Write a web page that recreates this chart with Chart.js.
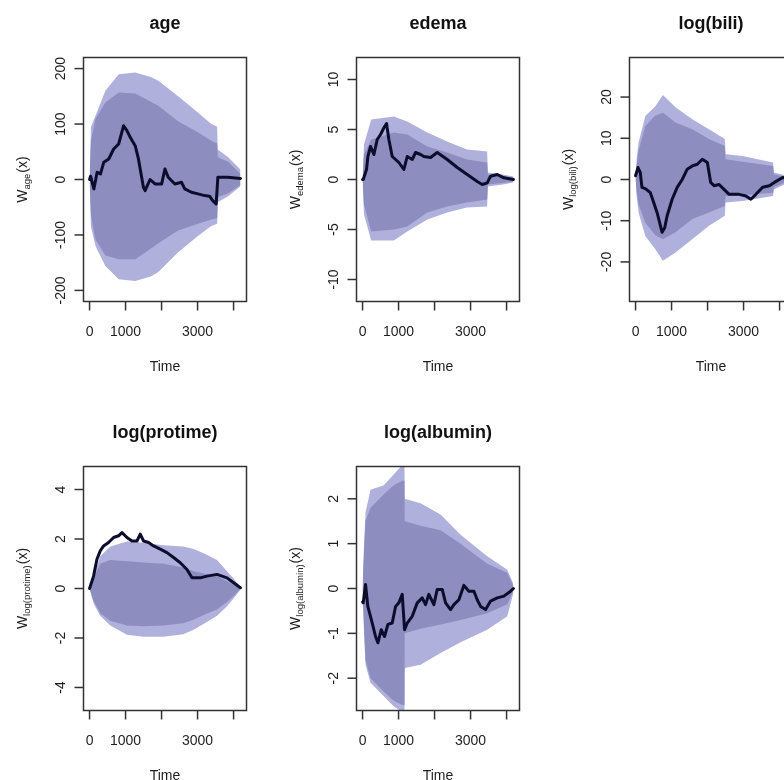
<!DOCTYPE html>
<html><head><meta charset="utf-8">
<script src="https://cdn.jsdelivr.net/npm/chart.js@4.4.1/dist/chart.umd.min.js"></script>
<style>
html,body{margin:0;padding:0;width:784px;height:780px;overflow:hidden;background:#fff}
canvas{position:absolute}
</style></head><body>
<canvas id="c0" width="273" height="409" style="left:0px;top:0px"></canvas>
<canvas id="c1" width="273" height="409" style="left:273px;top:0px"></canvas>
<canvas id="c2" width="273" height="409" style="left:546px;top:0px"></canvas>
<canvas id="c3" width="273" height="409" style="left:0px;top:409px"></canvas>
<canvas id="c4" width="273" height="409" style="left:273px;top:409px"></canvas>
<script>
// ---------- tick labels ----------
const xTickValues = [0, 1000, 2000, 3000, 4000];
const xTickLabels = ["0", "1000", "", "3000", ""];
const ageYTicks = [-200, -100, 0, 100, 200];
const edYTicks = [-10, -5, 0, 5, 10];
const biYTicks = [-20, -10, 0, 10, 20];
const prYTicks = [-4, -2, 0, 2, 4];
const alYTicks = [-2, -1, 0, 1, 2];

// ---------- age ----------
const ageT    = [0, 40, 165, 440, 810, 1270, 1700, 1910, 2460, 3010, 3380, 3545, 3560, 3850, 4191];
const ageHi   = [0, 95, 115, 160, 190, 193, 185, 178, 150, 121, 100, 95, 54, 40, 18];
const ageLo   = [0, -85, -120, -156, -180, -183, -175, -167, -131, -102, -84, -80, -41, -30, -12];
const ageInHi = [0, 70, 109, 139, 157, 155, 140, 133, 105, 85, 70, 65, 40, 32, 10];
const ageInLo = [0, -65, -108, -137, -144, -144, -125, -115, -92, -80, -72, -70, -32, -25, -10];
const ageObsT = [0, 28, 120, 211, 303, 395, 533, 670, 808, 946, 1038, 1130, 1267, 1358, 1496, 1543, 1680, 1818, 2002, 2094, 2185, 2369, 2553, 2645, 2829, 3012, 3196, 3333, 3420, 3517, 3563, 3838, 4191];
const ageObs  = [0, 6, -17, 13, 10, 31, 37, 55, 64, 97, 88, 76, 61, 37, -14, -20, 0, -8, -8, 19, 4, -8, -5, -17, -23, -26, -29, -30, -38, -44, 4, 4, 2];

// ---------- edema ----------
const edT    = [0, 40, 240, 870, 1240, 1800, 2350, 2900, 3460, 3480, 3900, 4191];
const edHi   = [0, 3.5, 6.0, 6.3, 5.8, 4.7, 3.8, 3.0, 2.8, 0.7, 0.5, 0.3];
const edLo   = [0, -3.5, -6.1, -6.1, -5.2, -4.0, -3.3, -2.8, -2.7, -0.7, -0.5, -0.3];
const edInHi = [0, 2.5, 4.0, 4.7, 4.5, 3.3, 2.7, 2.0, 1.7, 0.5, 0.35, 0.2];
const edInLo = [0, -2.5, -5.2, -5.0, -4.7, -3.3, -2.7, -2.3, -2.0, -0.5, -0.35, -0.2];
const edObsT = [0, 19, 110, 148, 222, 315, 407, 500, 611, 667, 731, 824, 917, 1009, 1148, 1241, 1380, 1472, 1611, 1704, 1889, 2074, 2352, 2630, 2907, 3185, 3324, 3463, 3555, 3740, 3925, 4191];
const edObs  = [0, 0, 1.0, 2.3, 3.3, 2.5, 4.0, 4.5, 5.3, 5.6, 4.0, 2.3, 2.0, 1.7, 1.0, 2.3, 2.0, 2.7, 2.5, 2.3, 2.2, 2.7, 2.0, 1.2, 0.5, -0.2, -0.5, -0.33, 0.33, 0.5, 0.17, 0];

// ---------- log(bili) ----------
const biT    = [0, 30, 84, 271, 550, 760, 1109, 1575, 2040, 2480, 2500, 2972, 3820, 3840, 4191];
const biHi   = [0, 5, 9, 15.4, 17.8, 20.5, 17.5, 14.6, 12.2, 9.8, 6.1, 5.7, 4.1, 1.7, 1.0];
const biLo   = [0, -4, -8, -13.7, -16.9, -19.7, -17.7, -14.5, -11.2, -8.8, -5.6, -5.2, -4.0, -2.4, -1.0];
const biInHi = [0, 3.5, 7, 13, 15.5, 16.2, 13.8, 12.2, 9.8, 8.1, 4.9, 4.3, 3.3, 1.2, 0.6];
const biInLo = [0, -3, -6, -10.5, -13.5, -14.5, -12.8, -9.6, -8.0, -6.4, -4.0, -3.8, -3.2, -1.8, -0.6];
const biObsT = [0, 67, 131, 178, 271, 411, 504, 597, 690, 737, 810, 877, 1017, 1156, 1296, 1436, 1575, 1715, 1855, 1994, 2087, 2179, 2319, 2458, 2598, 2877, 3064, 3204, 3343, 3529, 3715, 3855, 4088, 4191];
const biObs  = [0.9, 2.9, 1.7, -1.9, -2.2, -3.2, -5.6, -8.0, -11.2, -12.8, -11.7, -8.8, -4.8, -1.9, 0, 2.5, 3.3, 3.7, 4.9, 4.1, -0.7, -1.5, -1.2, -2.4, -3.6, -3.6, -4.0, -4.8, -3.6, -1.9, -1.5, -0.7, 0.5, 0.3];

// ---------- log(protime) ----------
const prT    = [0, 111, 297, 575, 1039, 1500, 2056, 2600, 2890, 3200, 3540, 3817, 4000, 4191];
const prHi   = [0, 0.5, 1.3, 1.7, 1.9, 1.85, 1.75, 1.7, 1.6, 1.4, 1.15, 0.7, 0.4, 0.05];
const prLo   = [0, -0.6, -1.1, -1.5, -1.87, -1.95, -1.95, -1.85, -1.67, -1.4, -1.1, -0.72, -0.4, -0.05];
const prInHi = [0, 0.4, 1.0, 1.15, 1.1, 1.05, 1.0, 0.85, 0.7, 0.6, 0.5, 0.3, 0.15, 0];
const prInLo = [0, -0.5, -1.0, -1.3, -1.5, -1.53, -1.5, -1.4, -1.26, -1.05, -0.85, -0.55, -0.3, 0];
const prObsT = [0, 111, 205, 297, 389, 528, 667, 806, 900, 1039, 1178, 1317, 1408, 1500, 1639, 1778, 1964, 2150, 2333, 2519, 2706, 2844, 3075, 3261, 3539, 3817, 4000, 4191];
const prObs  = [0, 0.5, 1.18, 1.52, 1.72, 1.86, 2.06, 2.13, 2.26, 2.06, 1.92, 1.92, 2.2, 1.92, 1.86, 1.72, 1.59, 1.45, 1.25, 1.04, 0.77, 0.43, 0.43, 0.5, 0.57, 0.43, 0.23, 0.03];

// ---------- log(albumin) ----------
const alT    = [0, 40, 83, 222, 592, 870, 1100, 1165, 1170, 1611, 2167, 2722, 3463, 4019, 4191];
const alHi   = [0, 1.0, 1.7, 2.2, 2.3, 2.55, 2.75, 2.75, 2.0, 1.9, 1.65, 1.2, 0.72, 0.42, 0.1];
const alLo   = [0, -1.0, -1.7, -2.1, -2.4, -2.63, -2.75, -2.75, -1.77, -1.7, -1.44, -1.2, -0.92, -0.62, -0.1];
const alInHi = [0, 0.8, 1.5, 1.8, 2.1, 2.3, 2.4, 2.4, 1.5, 1.4, 1.3, 1.0, 0.55, 0.35, 0.05];
const alInLo = [0, -0.8, -1.6, -2.0, -2.3, -2.5, -2.6, -2.6, -1.0, -0.9, -0.8, -0.7, -0.55, -0.35, -0.05];
const alObsT = [0, 19, 83, 147, 269, 361, 426, 518, 611, 704, 824, 917, 1009, 1102, 1167, 1241, 1380, 1519, 1658, 1750, 1842, 1981, 2074, 2213, 2306, 2444, 2537, 2676, 2815, 2954, 3093, 3185, 3278, 3417, 3556, 3741, 3925, 4111, 4191];
const alObs  = [-0.3, -0.32, 0.09, -0.4, -0.77, -1.07, -1.21, -0.92, -1.07, -0.8, -0.77, -0.4, -0.32, -0.13, -0.92, -0.77, -0.62, -0.32, -0.21, -0.36, -0.13, -0.36, -0.02, -0.02, -0.32, -0.47, -0.36, -0.25, 0.07, -0.06, -0.06, -0.25, -0.4, -0.47, -0.28, -0.21, -0.17, -0.06, 0];

// ---------- panel definitions ----------
const panels = [
  {id:'c0', title:'age',          sub:'age',          yMax:220,  yTicks:ageYTicks, t:ageT, hi:ageHi, lo:ageLo, inHi:ageInHi, inLo:ageInLo, obsT:ageObsT, obs:ageObs},
  {id:'c1', title:'edema',        sub:'edema',        yMax:12.2, yTicks:edYTicks,  t:edT,  hi:edHi,  lo:edLo,  inHi:edInHi,  inLo:edInLo,  obsT:edObsT,  obs:edObs},
  {id:'c2', title:'log(bili)',    sub:'log(bili)',    yMax:29.6, yTicks:biYTicks,  t:biT,  hi:biHi,  lo:biLo,  inHi:biInHi,  inLo:biInLo,  obsT:biObsT,  obs:biObs},
  {id:'c3', title:'log(protime)', sub:'log(protime)', yMax:4.93, yTicks:prYTicks,  t:prT,  hi:prHi,  lo:prLo,  inHi:prInHi,  inLo:prInLo,  obsT:prObsT,  obs:prObs},
  {id:'c4', title:'log(albumin)', sub:'log(albumin)', yMax:2.72, yTicks:alYTicks,  t:alT,  hi:alHi,  lo:alLo,  inHi:alInHi,  inLo:alInLo,  obsT:alObsT,  obs:alObs}
];

const FONT = '"Liberation Sans", Arial, Helvetica, sans-serif';
const LIGHT = '#b0b0dd';
const DARK = '#8d8dbf';
const OBS = '#0c0c2c';

const decor = {
  id: 'decor',
  afterDraw(chart) {
    const p = chart.options.plugins.decor;
    const ctx = chart.ctx, a = chart.chartArea, x = chart.scales.x, y = chart.scales.y;
    ctx.save();
    ctx.strokeStyle = '#333';
    ctx.lineWidth = 1.5;
    ctx.strokeRect(a.left, a.top, a.right - a.left, a.bottom - a.top);
    ctx.fillStyle = '#1e1e1e';
    ctx.font = '14px ' + FONT;
    ctx.textAlign = 'center';
    ctx.textBaseline = 'alphabetic';
    xTickValues.forEach((v, i) => {
      const px = x.getPixelForValue(v);
      ctx.beginPath(); ctx.moveTo(px, a.bottom); ctx.lineTo(px, a.bottom + 9); ctx.stroke();
      if (xTickLabels[i]) ctx.fillText(xTickLabels[i], px, a.bottom + 34.5);
    });
    ctx.fillText('Time', (a.left + a.right) / 2, a.bottom + 69);
    p.yTicks.forEach(v => {
      const py = y.getPixelForValue(v);
      ctx.beginPath(); ctx.moveTo(a.left - 9, py); ctx.lineTo(a.left, py); ctx.stroke();
      ctx.save(); ctx.translate(a.left - 19, py); ctx.rotate(-Math.PI / 2);
      ctx.fillText(String(v), 0, 0); ctx.restore();
    });
    // y label with subscript
    const main = '14px ' + FONT, small = '9.5px ' + FONT;
    ctx.font = main; const wW = ctx.measureText('W').width, wX = ctx.measureText('(x)').width;
    ctx.font = small; const wS = ctx.measureText(p.sub).width;
    const total = wW + wS + 1 + wX;
    ctx.save();
    ctx.translate(a.left - 57, (a.top + a.bottom) / 2);
    ctx.rotate(-Math.PI / 2);
    ctx.textAlign = 'left';
    let cx = -total / 2;
    ctx.font = main; ctx.fillText('W', cx, 0); cx += wW;
    ctx.font = small; ctx.fillText(p.sub, cx, 3); cx += wS + 1;
    ctx.font = main; ctx.fillText('(x)', cx, 0);
    ctx.restore();
    // title
    ctx.font = 'bold 18px ' + FONT;
    ctx.textAlign = 'center';
    ctx.fillStyle = '#111';
    ctx.fillText(p.title, (a.left + a.right) / 2, 28.5);
    ctx.restore();
  }
};

function pts(t, v) { return t.map((tt, i) => ({x: tt, y: v[i]})); }

panels.forEach(p => {
  const band = (data, fill, color, order) => ({data, fill, order, backgroundColor: color, borderWidth: 0, pointRadius: 0, tension: 0});
  new Chart(document.getElementById(p.id), {
    type: 'line',
    data: {
      datasets: [
        band(pts(p.t, p.hi), '+1', LIGHT, 4),
        band(pts(p.t, p.lo), false, LIGHT, 3),
        band(pts(p.t, p.inHi), '+1', DARK, 2),
        band(pts(p.t, p.inLo), false, DARK, 1),
        {data: pts(p.obsT, p.obs), order: 0, fill: false, borderColor: OBS, borderWidth: 3, pointRadius: 0, tension: 0, borderJoinStyle: 'round', borderCapStyle: 'round'}
      ]
    },
    options: {
      responsive: false,
      devicePixelRatio: 1,
      animation: false,
      layout: {padding: {left: 83.5, right: 26.5, top: 57.5, bottom: 107.5}},
      scales: {
        x: {type: 'linear', min: -168, max: 4359, display: false},
        y: {type: 'linear', min: -p.yMax, max: p.yMax, display: false}
      },
      plugins: {legend: {display: false}, tooltip: {enabled: false}, decor: {title: p.title, sub: p.sub, yTicks: p.yTicks}}
    },
    plugins: [decor]
  });
});
</script>
</body></html>
